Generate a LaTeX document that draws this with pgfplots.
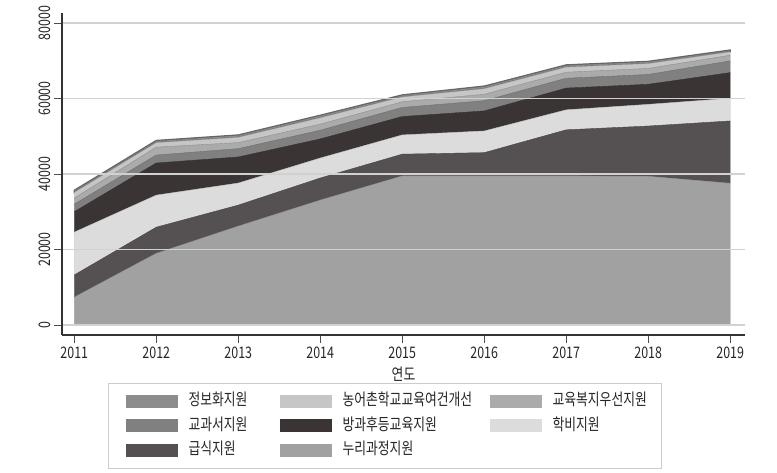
\documentclass[border=0pt]{standalone}
\usepackage{pgfplots}
\usepackage{pgfplotstable}
\pgfplotsset{compat=1.18}
\usepackage{fontspec}
\setmainfont{Noto Sans CJK KR}[FakeStretch=0.78]

\definecolor{cNuri}{HTML}{A1A1A1}
\definecolor{cGeup}{HTML}{555152}
\definecolor{cHakbi}{HTML}{DCDCDC}
\definecolor{cBang}{HTML}{3B3434}
\definecolor{cGyo}{HTML}{808080}
\definecolor{cBokji}{HTML}{ABABAB}
\definecolor{cNong}{HTML}{C6C6C6}
\definecolor{cJeong}{HTML}{8C8C8C}

\pgfplotstableread{
year nuri geup hakbi bang gyo bokji nong jeong
2011 7400 5850 11350 5400 2000 1600 1500 600
2012 19000 6900 8500 8500 2100 2100 1200 600
2013 26200 5550 5850 6900 2200 1600 1400 650
2014 33100 5830 5300 5050 2300 1600 1700 700
2015 39500 5750 5100 4860 2400 1500 1300 550
2016 39500 6150 5750 5300 2700 1700 1500 700
2017 39500 12200 5300 5750 2600 1600 1350 620
2018 39400 13300 5750 5300 2600 1600 1300 600
2019 37550 16500 6000 6800 3100 1500 900 500
}\data

\begin{document}
\begin{tikzpicture}
\begin{axis}[
  at={(0,0)}, anchor=south west,
  set layers=standard,
  scale only axis, width=683bp, height=322bp,
  xmin=2010.85, xmax=2019.18, ymin=-2650, ymax=82650,
  axis lines=left,
  axis line style={-, draw=black!80, line width=1.2bp},
  xtick={2011,...,2019}, ytick={0,20000,40000,60000,80000},
  tick align=outside, major tick length=8bp,
  tick style={draw=black!70, line width=0.8bp},
  ymajorgrids, grid style={draw=black!18, line width=1.2bp},
  scaled y ticks=false,
  /pgf/number format/1000 sep=,
  /pgf/number format/assume math mode=true,
  tick label style={font=\fontsize{16}{16}\selectfont, text=black!85},
  y tick label style={rotate=90, anchor=south},
  xlabel={연도},
  xlabel style={font=\fontsize{16.5}{17}\selectfont, text=black!85, yshift=-2bp},
  stack plots=y,
  area style,
  legend columns=3,
  reverse legend,
  legend cell align=left,
  legend image code/.code={\fill[#1, draw=none] (0bp,-6.5bp) rectangle (52bp,6.5bp);},
  legend style={
    at={(0.0674,-0.149)}, anchor=north west,
    draw=black!20, line width=1bp,
    inner xsep=17bp, inner ysep=11bp,
    font=\fontsize{16.5}{17}\selectfont,
    text=black!85,
    nodes={inner xsep=0pt, inner ysep=0pt, text height=11.5bp, text depth=2.5bp, anchor=west},
    row sep=10.5bp,
    /tikz/every odd column/.style={column sep=11bp},
  },
]
\addplot[fill=cNuri, draw=cNuri!85!black, line width=0.4bp] table[x=year, y=nuri]{\data} \closedcycle;
\addlegendentry{\makebox[147bp][l]{누리과정지원}}
\addplot[fill=cGeup, draw=cGeup!85!black, line width=0.4bp] table[x=year, y=geup]{\data} \closedcycle;
\addlegendentry{\makebox[91bp][l]{급식지원}}
\addplot[fill=cHakbi, draw=cHakbi!85!black, line width=0.4bp] table[x=year, y=hakbi]{\data} \closedcycle;
\addlegendentry{\makebox[92bp][l]{학비지원}}
\addplot[fill=cBang, draw=cBang!85!black, line width=0.4bp] table[x=year, y=bang]{\data} \closedcycle;
\addlegendentry{\makebox[147bp][l]{방과후등교육지원}}
\addplot[fill=cGyo, draw=cGyo!85!black, line width=0.4bp] table[x=year, y=gyo]{\data} \closedcycle;
\addlegendentry{\makebox[91bp][l]{교과서지원}}
\addplot[fill=cBokji, draw=cBokji!85!black, line width=0.4bp] table[x=year, y=bokji]{\data} \closedcycle;
\addlegendentry{\makebox[92bp][l]{교육복지우선지원}}
\addplot[fill=cNong, draw=cNong!85!black, line width=0.4bp] table[x=year, y=nong]{\data} \closedcycle;
\addlegendentry{\makebox[147bp][l]{농어촌학교교육여건개선}}
\addplot[fill=cJeong, draw=black!60, line width=1.2bp] table[x=year, y=jeong]{\data} \closedcycle;
\addlegendentry{\makebox[91bp][l]{정보화지원}}
\end{axis}
\path (-62bp,-138bp) rectangle (715bp,335bp);
\end{tikzpicture}
\end{document}
